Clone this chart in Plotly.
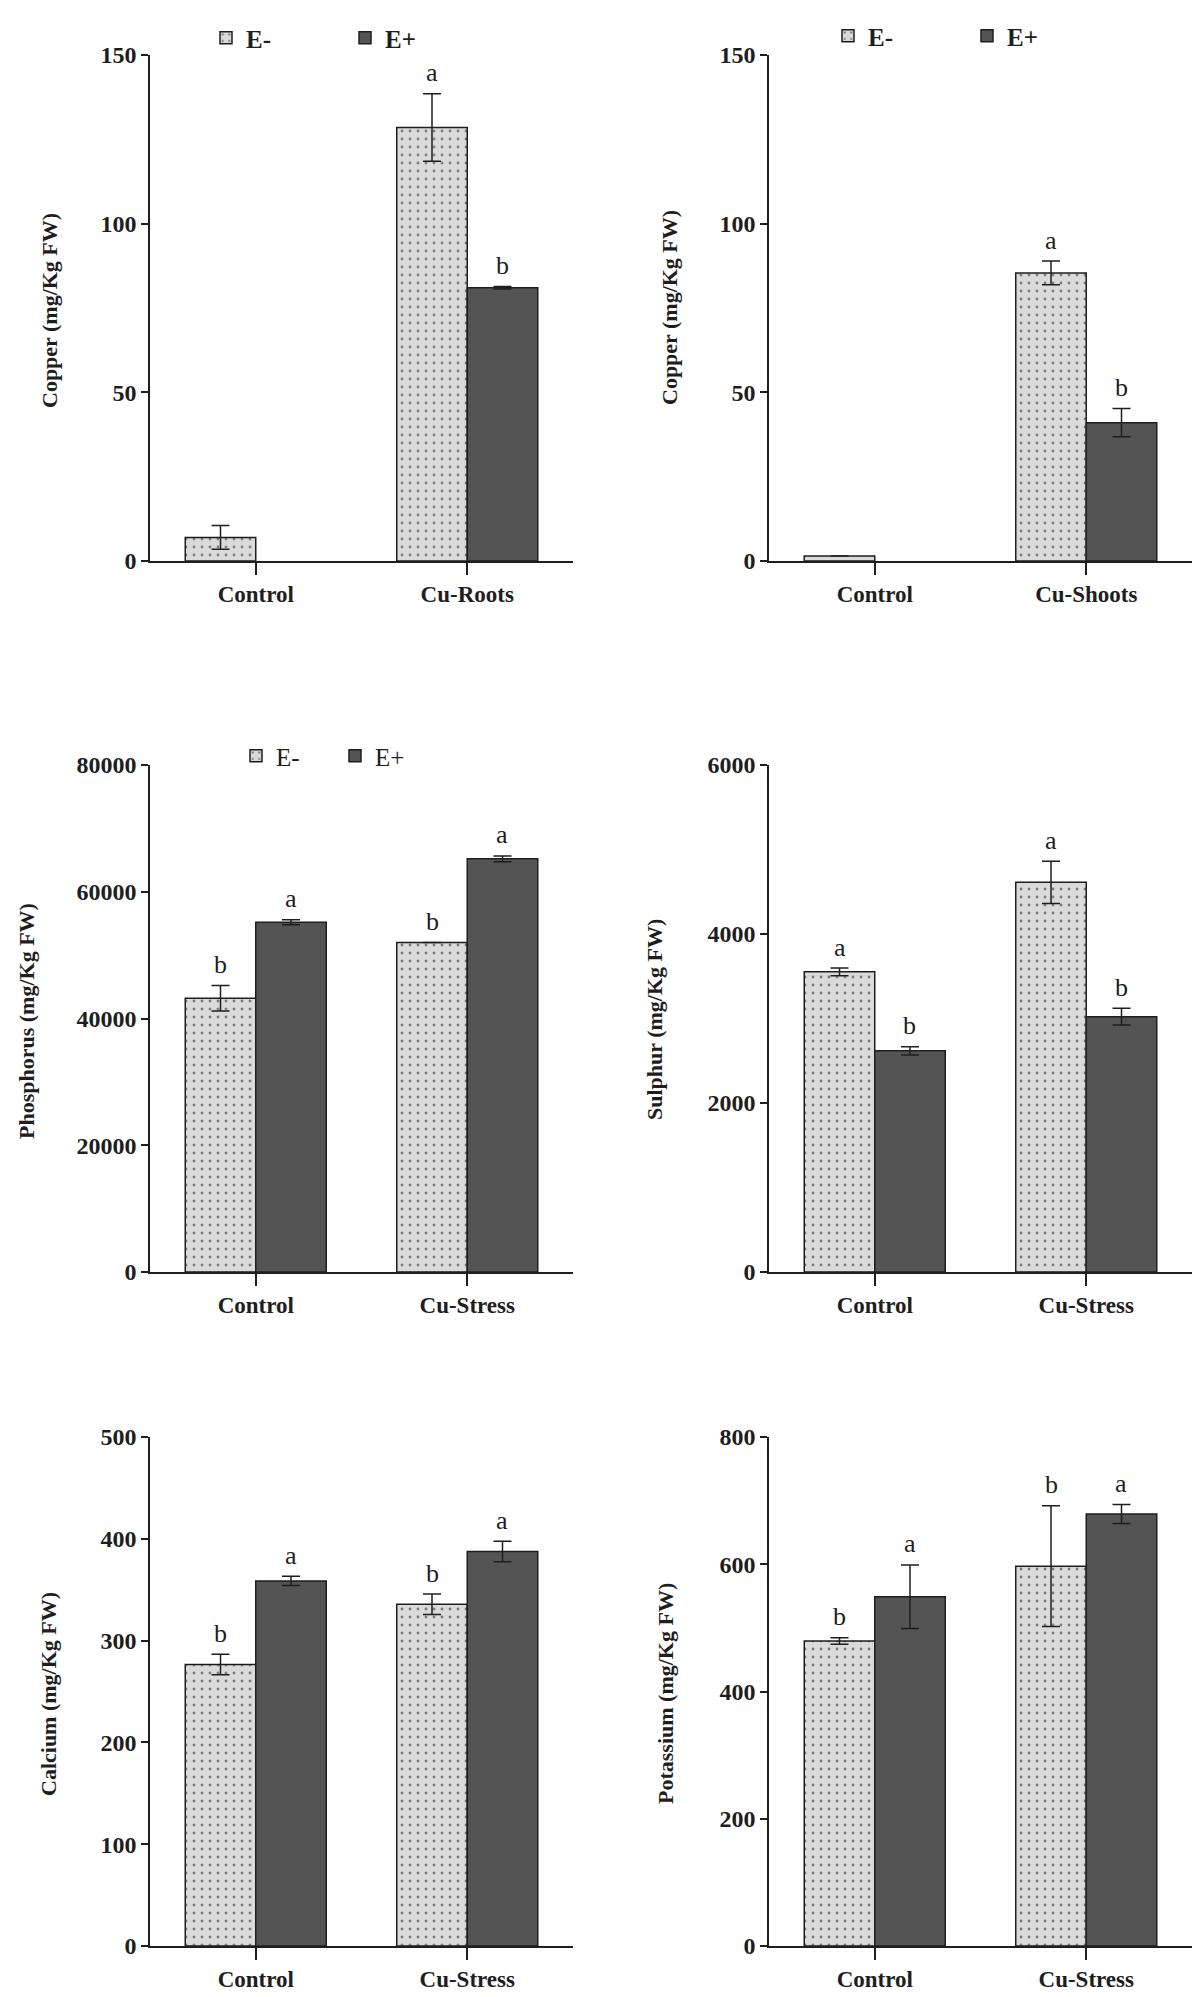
import plotly.graph_objects as go
from plotly.subplots import make_subplots

# ---- values ----
cu_roots_cats = ["Control", "Cu-Roots"]
cu_roots_em = [7.0, 128.5]
cu_roots_em_err = [3.5, 10.0]
cu_roots_ep = [None, 81.0]
cu_roots_ep_err = [0, 0.4]
cu_roots_em_sig = ["", "a"]
cu_roots_ep_sig = ["", "b"]

cu_shoots_cats = ["Control", "Cu-Shoots"]
cu_shoots_em = [1.5, 85.4]
cu_shoots_em_err = [0, 3.5]
cu_shoots_ep = [None, 41.0]
cu_shoots_ep_err = [0, 4.2]
cu_shoots_em_sig = ["", "a"]
cu_shoots_ep_sig = ["", "b"]

stress_cats = ["Control", "Cu-Stress"]

phos_em = [43200, 52000]
phos_em_err = [2000, 0]
phos_ep = [55200, 65200]
phos_ep_err = [400, 450]
phos_em_sig = ["b", "b"]
phos_ep_sig = ["a", "a"]

sulph_em = [3552, 4612]
sulph_em_err = [45, 250]
sulph_ep = [2617, 3022]
sulph_ep_err = [48, 100]
sulph_em_sig = ["a", "a"]
sulph_ep_sig = ["b", "b"]

calc_em = [276.5, 335.7]
calc_em_err = [10, 10]
calc_ep = [358.6, 387.5]
calc_ep_err = [4.5, 10]
calc_em_sig = ["b", "b"]
calc_ep_sig = ["a", "a"]

pot_em = [479.4, 597]
pot_em_err = [5, 95]
pot_ep = [549, 679]
pot_ep_err = [50, 15]
pot_em_sig = ["b", "b"]
pot_ep_sig = ["a", "a"]

W, H = 1200, 1997
OFF = 8  # the page body margin shifts the figure by this much
FONT = "Liberation Serif, Times New Roman, serif"
INK = "#1e1e1e"
LIGHT = "#dadada"
DARK = "#545454"


def px(x):
    return (x - OFF) / W


def py(y):
    return 1 - (y - OFF) / H


panels = [
    dict(cats=cu_roots_cats, em=cu_roots_em, em_err=cu_roots_em_err, ep=cu_roots_ep,
         ep_err=cu_roots_ep_err, em_sig=cu_roots_em_sig, ep_sig=cu_roots_ep_sig,
         ymax=150, dtick=50, title="Copper (mg/Kg FW)", legend="legend"),
    dict(cats=cu_shoots_cats, em=cu_shoots_em, em_err=cu_shoots_em_err, ep=cu_shoots_ep,
         ep_err=cu_shoots_ep_err, em_sig=cu_shoots_em_sig, ep_sig=cu_shoots_ep_sig,
         ymax=150, dtick=50, title="Copper (mg/Kg FW)", legend="legend2"),
    dict(cats=stress_cats, em=phos_em, em_err=phos_em_err, ep=phos_ep,
         ep_err=phos_ep_err, em_sig=phos_em_sig, ep_sig=phos_ep_sig,
         ymax=80000, dtick=20000, title="Phosphorus (mg/Kg FW)", legend="legend3"),
    dict(cats=stress_cats, em=sulph_em, em_err=sulph_em_err, ep=sulph_ep,
         ep_err=sulph_ep_err, em_sig=sulph_em_sig, ep_sig=sulph_ep_sig,
         ymax=6000, dtick=2000, title="Sulphur (mg/Kg FW)", legend=None),
    dict(cats=stress_cats, em=calc_em, em_err=calc_em_err, ep=calc_ep,
         ep_err=calc_ep_err, em_sig=calc_em_sig, ep_sig=calc_ep_sig,
         ymax=500, dtick=100, title="Calcium (mg/Kg FW)", legend=None),
    dict(cats=stress_cats, em=pot_em, em_err=pot_em_err, ep=pot_ep,
         ep_err=pot_ep_err, em_sig=pot_em_sig, ep_sig=pot_ep_sig,
         ymax=800, dtick=200, title="Potassium (mg/Kg FW)", legend=None),
]

# page-pixel layout of each panel: (axis x, axis end x), (top y, zero y)
col_px = [(150, 573), (769, 1192)]
row_px = [(55, 561), (765, 1272), (1437, 1946)]
ytitle_px = [(50, 311), (669, 308), (27, 1021), (654, 1020), (48, 1694), (665, 1694)]

fig = make_subplots(rows=3, cols=2)

for i, p in enumerate(panels):
    r, c = i // 2 + 1, i % 2 + 1
    show = p["legend"] is not None
    leg = p["legend"] or "legend"
    fig.add_trace(go.Bar(
        x=p["cats"], y=p["em"], name="E-", legend=leg, showlegend=show,
        marker=dict(color=LIGHT, line=dict(color=INK, width=1.5),
                    pattern=dict(shape=".", fgcolor=INK, bgcolor=LIGHT, size=8, solidity=0.1)),
        error_y=dict(type="data", array=p["em_err"], color=INK, thickness=1.5, width=9),
    ), row=r, col=c)
    fig.add_trace(go.Bar(
        x=p["cats"], y=p["ep"], name="E+", legend=leg, showlegend=show,
        marker=dict(color=DARK, line=dict(color=INK, width=1.5)),
        error_y=dict(type="data", array=p["ep_err"], color=INK, thickness=1.5, width=9),
    ), row=r, col=c)

    n = "" if i == 0 else str(i + 1)
    for vals, errs, sigs, shift in ((p["em"], p["em_err"], p["em_sig"], -35),
                                    (p["ep"], p["ep_err"], p["ep_sig"], 35)):
        for cat, v, e, s in zip(p["cats"], vals, errs, sigs):
            if not s or v is None:
                continue
            fig.add_annotation(x=cat, y=v + e, xref="x" + n, yref="y" + n, text=s,
                               showarrow=False, xshift=shift, yshift=21, yanchor="middle",
                               font=dict(family=FONT, size=26, color=INK))

    x0, x1 = col_px[c - 1]
    top, zero = row_px[r - 1]
    fig.update_xaxes(domain=[px(x0), px(x1)], range=[-0.5, 1.5], type="category",
                     showline=True, linecolor=INK, linewidth=1.5, ticks="outside",
                     ticklen=12, tickwidth=1.5, tickcolor=INK, showgrid=False,
                     ticklabelstandoff=0, automargin=False,
                     tickfont=dict(family=FONT, size=23, color=INK, weight="bold"),
                     row=r, col=c)
    fig.update_yaxes(domain=[py(zero), py(top)], range=[0, p["ymax"]],
                     dtick=p["dtick"], tickformat="d", showline=True, linecolor=INK,
                     linewidth=1.5, ticks="outside", ticklen=7, tickwidth=1.5,
                     tickcolor=INK, showgrid=False, zeroline=False,
                     ticklabelstandoff=0, automargin=False,
                     tickfont=dict(family=FONT, size=24, color=INK, weight="bold"),
                     row=r, col=c)

    tx, ty = ytitle_px[i]
    fig.add_annotation(x=px(tx), y=py(ty), xref="paper", yref="paper",
                       xanchor="center", yanchor="middle",
                       text=p["title"], textangle=-90, showarrow=False,
                       font=dict(family=FONT, size=22, color=INK, weight="bold"))

leg_common = dict(orientation="h", xanchor="left", yanchor="middle",
                  bgcolor="rgba(0,0,0,0)", entrywidthmode="pixels")
fig.update_layout(
    width=W, height=H,
    margin=dict(l=0, r=0, t=0, b=0, autoexpand=False),
    paper_bgcolor="white", plot_bgcolor="white",
    barmode="group", bargap=1 / 3, bargroupgap=0,
    legend=dict(x=px(206), y=py(38), entrywidth=94,
                font=dict(family=FONT, size=25, color=INK, weight="bold"), **leg_common),
    legend2=dict(x=px(828), y=py(36), entrywidth=94,
                 font=dict(family=FONT, size=25, color=INK, weight="bold"), **leg_common),
    legend3=dict(x=px(236), y=py(756), entrywidth=54,
                 font=dict(family=FONT, size=25, color=INK), **leg_common),
)

fig.write_html("out.html")
